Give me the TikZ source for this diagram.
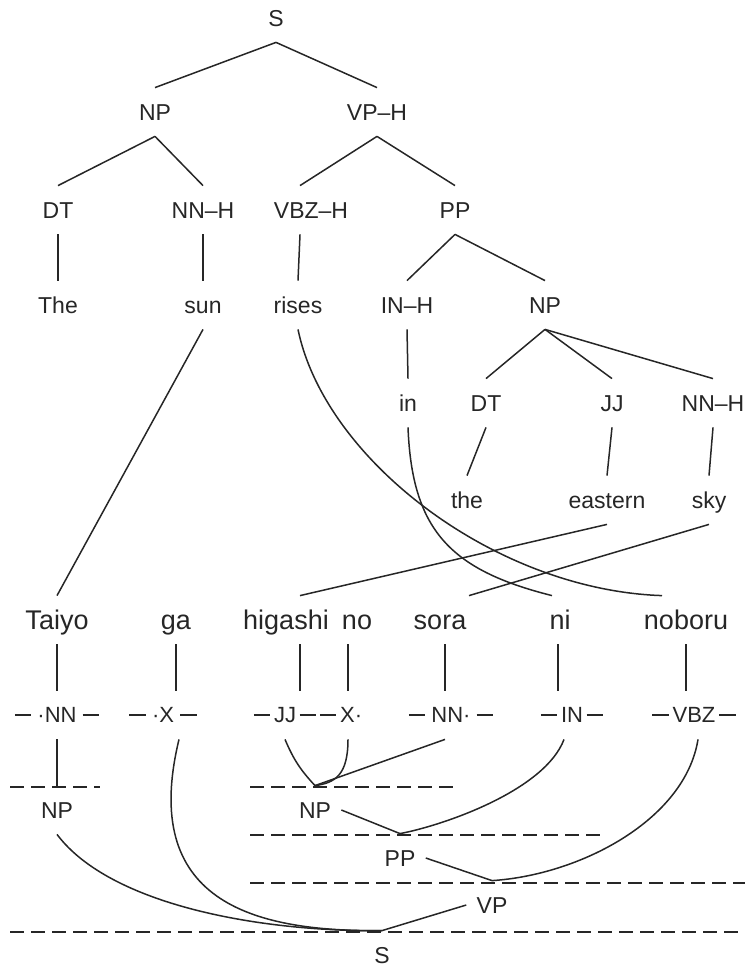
\documentclass[tikz,border=0pt]{standalone}
\usepackage{fontspec}
\setmainfont{Liberation Sans}
\usetikzlibrary{positioning}

% short rule used around the category labels of the lower tree
\newcommand\dsh{\rule[0.32em]{0.75em}{0.07em}}

\begin{document}
\begin{tikzpicture}[
    x=0.5pt, y=-0.5pt,
    every node/.style={inner sep=0pt, minimum height=24pt, text depth=0pt,
                       text=black!85},
    cat/.style={font=\fontsize{11.5}{13}\selectfont, text height=8.2pt},
    word/.style={font=\fontsize{13.5}{16}\selectfont, text height=9.7pt},
    jcat/.style={font=\fontsize{11}{13}\selectfont, text height=7.9pt},
    span/.style={cat, inner xsep=5pt},
    link/.style={line width=0.75pt, black!85},
    bar/.style={line width=0.75pt, black!85, dash pattern=on 7pt off 3.5pt}
  ]
  \useasboundingbox (0,0) rectangle (745,967);

  % English parse tree
  \node[cat] (s)     at (276,18)  {S};
  \node[cat] (np)    at (155,112) {NP};
  \node[cat] (vp)    at (377,112) {VP–H};
  \node[cat] (dt)    at (58,210)  {DT};
  \node[cat] (nnh)   at (203,210) {NN–H};
  \node[cat] (vbz)   at (311,210) {VBZ–H};
  \node[cat] (pp)    at (455,210) {PP};
  \node[cat] (the)   at (58,305)  {The};
  \node[cat] (sun)   at (203,305) {sun};
  \node[cat] (rises) at (298,305) {rises};
  \node[cat] (inh)   at (407,305) {IN–H};
  \node[cat] (npb)   at (545,305) {NP};
  \node[cat] (in)    at (408,403) {in};
  \node[cat] (dtb)   at (486,403) {DT};
  \node[cat] (jj)    at (612,403) {JJ};
  \node[cat] (nnhb)  at (713,403) {NN–H};
  \node[cat] (theb)  at (467,500) {the};
  \node[cat] (east)  at (607,500) {eastern};
  \node[cat] (sky)   at (709,500) {sky};

  \draw[link] (s.south) -- (np.north);
  \draw[link] (s.south) -- (vp.north);
  \draw[link] (np.south) -- (dt.north);
  \draw[link] (np.south) -- (nnh.north);
  \draw[link] (vp.south) -- ([xshift=-5.5pt]vbz.north);
  \draw[link] (vp.south) -- (pp.north);
  \draw[link] (dt.south) -- (the.north);
  \draw[link] (nnh.south) -- (sun.north);
  \draw[link] ([xshift=-5.5pt]vbz.south) -- (rises.north);
  \draw[link] (pp.south) -- (inh.north);
  \draw[link] (pp.south) -- (npb.north);
  \draw[link] (inh.south) -- (in.north);
  \draw[link] (npb.south) -- (dtb.north);
  \draw[link] (npb.south) -- (jj.north);
  \draw[link] (npb.south) -- (nnhb.north);
  \draw[link] (dtb.south) -- (theb.north);
  \draw[link] (jj.south) -- (east.north);
  \draw[link] (nnhb.south) -- (sky.north);

  % Japanese words
  \node[word] (taiyo)   at (57,620)  {Taiyo};
  \node[word] (ga)      at (176,620) {ga};
  \node[word] (higashi) at (286,620) {higashi};
  \node[word] (no)      at (357,620) {no};
  \node[word] (sora)    at (440,620) {sora};
  \node[word] (ni)      at (560,620) {ni};
  \node[word] (noboru)  at (686,620) {noboru};

  % word alignment
  \draw[link] (sun.south) -- (taiyo.north);
  \draw[link] (rises.south) .. controls (325,460) and (495,590)
    .. ([xshift=-12pt]noboru.north);
  \draw[link] (in.south) .. controls (412,530) and (450,570)
    .. ([xshift=-4pt]ni.north);
  \draw[link] (east.south) -- ([xshift=7pt]higashi.north);
  \draw[link] (sky.south) -- ([xshift=14.5pt]sora.north);

  % categories of the Japanese side
  \node[jcat] (ja) at (57,715)  {\dsh\ ·NN \dsh};
  \node[jcat] (jb) at (163,715) {\dsh\ ·X \dsh};
  \node[jcat] (jc) at (285,715) {\dsh\,JJ\,\dsh};
  \node[jcat] (jd) at (341,715) {\dsh\,X·};
  \node[jcat] (je) at (451,715) {\dsh\ NN· \dsh};
  \node[jcat] (jf) at (572,715) {\dsh\,IN\,\dsh};
  \node[jcat] (jg) at (694,715) {\dsh\,VBZ\,\dsh};

  \draw[link] (taiyo.south) -- (ja.north);
  \draw[link] (ga.south) -- ([xshift=6.5pt]jb.north);
  \draw[link] ([xshift=7pt]higashi.south) -- ([xshift=7.5pt]jc.north);
  \draw[link] ([xshift=-4.5pt]no.south) -- ([xshift=3.5pt]jd.north);
  \draw[link] ([xshift=2.5pt]sora.south) -- ([xshift=-3pt]je.north);
  \draw[link] ([xshift=-1pt]ni.south) -- ([xshift=-7pt]jf.north);
  \draw[link] (noboru.south) -- ([xshift=-4pt]jg.north);

  % spans
  \draw[bar] (10,787) -- (100,787);
  \draw[bar] (250,787) -- (460,787);
  \draw[bar] (250,835) -- (605,835);
  \draw[bar] (250,883) -- (745,883);
  \draw[bar] (10,932) -- (745,932);

  \node[span] (npl) at (57,810)  {NP};
  \node[span] (npm) at (315,810) {NP};
  \node[span] (ppn) at (400,858) {PP};
  \node[span] (vpn) at (492,905) {VP};
  \node[span] (sn)  at (382,955) {S};

  \draw[link] (ja.south) -- (npl.north);
  \draw[link] (jc.south) to[bend right=10] (npm.north);
  \draw[link] ([xshift=3.5pt]jd.south) .. controls (348,775) and (335,783)
    .. (npm.north);
  \draw[link] ([xshift=-3pt]je.south) -- (npm.north);
  \draw[link] (npm.east) -- (ppn.north);
  \draw[link] ([xshift=-4pt]jf.south) .. controls (545,790) and (445,825)
    .. (ppn.north);
  \draw[link] (ppn.east) -- (vpn.north);
  \draw[link] ([xshift=2pt]jg.south) .. controls (685,820) and (580,875)
    .. (vpn.north);
  \draw[link] (npl.south) .. controls (110,905) and (260,932) .. (sn.north);
  \draw[link] ([xshift=8pt]jb.south) .. controls (140,900) and (250,932)
    .. (sn.north);
  \draw[link] (vpn.west) -- (sn.north);
\end{tikzpicture}
\end{document}
